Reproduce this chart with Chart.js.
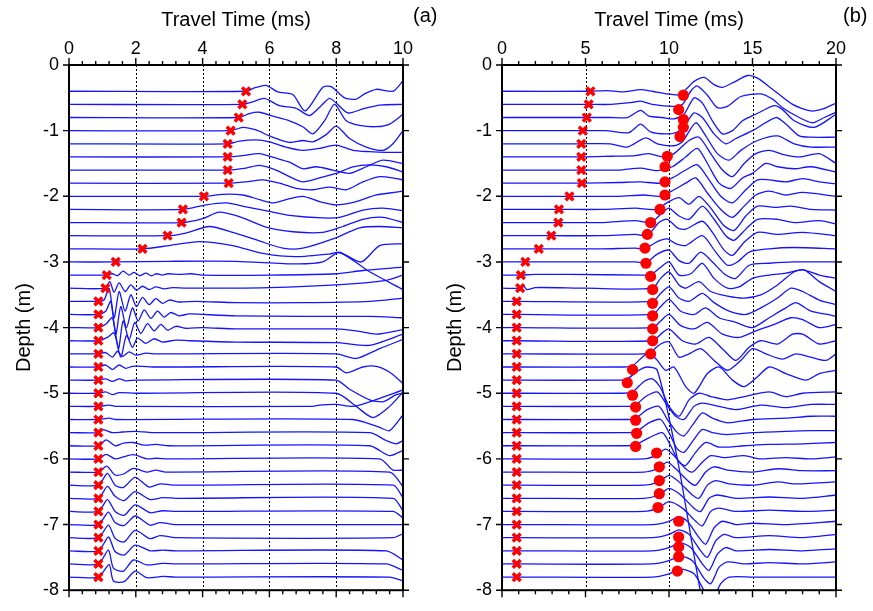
<!DOCTYPE html>
<html>
<head>
<meta charset="utf-8">
<script src="https://cdn.jsdelivr.net/npm/chart.js@4.4.1/dist/chart.umd.min.js"></script>
<style>
  body { margin: 0; background: #fff; width: 873px; height: 611px; position: relative; overflow: hidden; }
  canvas { position: absolute; top: 0; }
  #chartA { left: 0; }
  #chartB { left: 436px; }
</style>
</head>
<body>
<canvas id="chartA" width="436" height="611"></canvas>
<canvas id="chartB" width="437" height="611"></canvas>
<script>
// receiver depths (m), one trace per depth, same for both panels
const depths = [-0.4, -0.6, -0.8, -1.0, -1.2, -1.4, -1.6, -1.8, -2.0, -2.2, -2.4, -2.6, -2.8, -3.0, -3.2, -3.4, -3.6, -3.8, -4.0,
  -4.2, -4.4, -4.6, -4.8, -5.0, -5.2, -5.4, -5.6, -5.8, -6.0, -6.2, -6.4, -6.6, -6.8, -7.0, -7.2, -7.4, -7.6, -7.8];

// first arrival picks (ms), red crosses
const firstArrival = [5.30, 5.19, 5.08, 4.84, 4.75, 4.75, 4.75, 4.78, 4.04, 3.41, 3.37, 2.95, 2.20, 1.40, 1.13, 1.09,
  0.88, 0.88, 0.88, 0.88, 0.88, 0.88, 0.88, 0.88, 0.88, 0.88, 0.88, 0.88, 0.88, 0.88, 0.88, 0.88, 0.88, 0.88, 0.88, 0.88, 0.88, 0.88];

// second picks in panel (b), red dots
const circleTimes = [10.86, 10.58, 10.86, 10.86, 10.66, 9.90, 9.76, 9.76, 9.76, 9.46, 8.90, 8.70, 8.56, 8.62, 8.90, 9.02, 9.02,
  9.02, 9.02, 9.02, 8.90, 7.82, 7.50, 7.82, 8.00, 8.00, 8.06, 8.00, 9.26, 9.42, 9.42, 9.42, 9.34, 10.58, 10.58, 10.58, 10.58, 10.50];
const circleDepths = [-0.46, -0.68, -0.83, -0.95, -1.09, -1.39, -1.55, -1.78, -1.98, -2.20, -2.40, -2.58, -2.79, -3.02, -3.22, -3.42, -3.63,
  -3.82, -4.02, -4.20, -4.40, -4.64, -4.84, -5.03, -5.21, -5.41, -5.61, -5.81, -5.91, -6.12, -6.33, -6.53, -6.74, -6.95, -7.19, -7.34, -7.49, -7.71];

const yTicks = [0, -1, -2, -3, -4, -5, -6, -7, -8];
const xTicksA = [0, 2, 4, 6, 8, 10];
const xTicksB = [0, 5, 10, 15, 20];

// panel (a) traces: [time ms, offset from depth in m]
const tracesA = [
  [[0,0],[5.3,0],[5.55,0.05],[5.9,0.09],[6.25,-0.01],[6.7,-0.05],[7.07,-0.3],[7.6,0.06],[7.85,0.07],[8.25,-0.1],[8.6,-0.12],[8.85,-0.04],[9.2,0.03],[9.7,0],[10,0.16]],
  [[0,0],[5.19,0],[5.5,0.04],[5.85,0.09],[6.3,-0.02],[6.8,-0.06],[7.2,-0.17],[7.55,-0.02],[7.8,0.09],[8.0,0.02],[8.35,-0.13],[8.8,-0.07],[9.3,-0.01],[10,0]],
  [[0,0],[5.08,0],[5.4,0.06],[5.7,0.08],[6.1,0.02],[6.6,-0.05],[7.0,-0.14],[7.3,-0.25],[7.65,-0.05],[7.95,0.2],[8.3,-0.05],[8.7,-0.12],[9.2,-0.14],[9.6,-0.1],[10,0.05]],
  [[0,0],[4.84,0],[5.2,0.05],[5.6,0.01],[6.0,-0.08],[6.6,-0.18],[7.0,-0.15],[7.3,-0.17],[7.7,-0.06],[8.0,0.07],[8.4,-0.12],[8.9,-0.25],[9.4,-0.3],[9.7,-0.2],[10,0]],
  [[0,0],[4.75,0],[5.1,0.04],[5.6,0.06],[6.0,0.03],[6.5,-0.05],[7.0,-0.1],[7.5,-0.07],[8.0,-0.02],[8.5,-0.1],[9.0,-0.12],[9.5,-0.13],[10,-0.13]],
  [[0,0],[4.75,0],[5.2,0.02],[5.7,0.05],[6.2,-0.02],[6.6,-0.08],[7.0,-0.18],[7.4,-0.15],[7.9,-0.2],[8.4,-0.25],[8.9,-0.15],[9.4,-0.05],[10,-0.1]],
  [[0,0],[4.75,0],[5.3,0.03],[5.7,0.07],[6.2,0],[6.6,-0.1],[7.0,-0.18],[7.5,-0.12],[8.0,-0.05],[8.5,0.05],[9.0,0.08],[9.5,0.05],[10,-0.03]],
  [[0,0],[4.78,0],[5.3,0.02],[5.8,0.05],[6.3,0],[6.8,-0.08],[7.3,-0.1],[7.8,-0.06],[8.3,-0.1],[8.8,0.02],[9.3,0.1],[9.8,0.07],[10,0.05]],
  [[0,0],[4.04,0],[4.6,0.03],[5.2,0.02],[5.7,-0.05],[6.1,-0.1],[6.5,-0.05],[7.0,0],[7.5,-0.08],[8.0,-0.13],[8.6,-0.08],[9.2,0.02],[9.6,0.05],[10,0.08]],
  [[0,0],[3.41,0],[4.1,0.07],[4.7,0.1],[5.3,0.04],[6.0,-0.03],[6.6,-0.09],[7.6,-0.13],[8.1,-0.12],[8.8,-0.01],[9.4,0.02],[10,-0.02]],
  [[0,0],[3.37,0],[4.0,0.06],[4.5,0.16],[5.1,0.09],[5.9,-0.07],[6.7,-0.14],[7.6,-0.15],[8.2,-0.06],[8.8,0.05],[9.4,0.08],[10,0]],
  [[0,0],[2.95,0],[3.5,0.04],[4.2,0.14],[4.9,0.05],[5.7,-0.08],[6.4,-0.19],[7.0,-0.19],[7.9,-0.05],[8.7,0.12],[9.3,0.14],[10,0.12]],
  [[0,0],[2.2,0],[3.0,0.05],[3.9,0.11],[4.9,0.05],[5.8,-0.07],[6.8,-0.12],[7.8,-0.08],[8.1,-0.05],[8.75,-0.2],[9.3,0.05],[10,0.08]],
  [[0,0],[1.4,0],[3.0,0.01],[5.0,0.01],[6.8,-0.03],[7.6,0],[8.1,0.14],[9.0,-0.15],[10,-0.42]],
  [[0,0],[1.13,0],[1.3,0.02],[1.45,-0.01],[1.62,0.06],[1.8,0],[1.95,0.04],[2.12,-0.01],[2.3,0.03],[2.47,-0.01],[2.62,0.02],[2.8,0],[2.96,0.02],[3.3,0.01],[3.65,0.02],[4.0,0],[6,0],[8,0.02],[8.8,0.07],[10,0.12]],
  [[0,0],[1.09,0],[1.22,0.1],[1.35,-0.06],[1.5,0.08],[1.68,-0.05],[1.85,0.05],[2.02,-0.03],[2.2,0.03],[2.4,-0.02],[2.6,0.02],[2.85,-0.01],[3.1,0.01],[3.5,0],[6,0.01],[8,0.05],[9.5,0.12],[10,0.2]],
  [[0,0],[0.88,0],[1.05,0.02],[1.2,0.2],[1.35,-0.25],[1.5,0.15],[1.68,-0.15],[1.85,0.1],[2.02,-0.08],[2.2,0.06],[2.4,-0.05],[2.6,0.04],[2.8,-0.03],[3.0,0.02],[3.3,-0.01],[3.8,0],[5,-0.02],[7,-0.02],[9,0],[10,0.05]],
  [[0,0],[0.88,0],[1.1,0.05],[1.25,0.2],[1.4,-0.3],[1.55,0.12],[1.72,-0.2],[1.9,0.1],[2.07,-0.1],[2.25,0.07],[2.45,-0.06],[2.65,0.05],[2.85,-0.04],[3.05,0.03],[3.3,-0.02],[3.6,0.01],[4.0,0],[5,-0.02],[7,-0.03],[9,-0.03],[10,-0.05]],
  [[0,0],[0.88,0],[1.1,0.05],[1.3,0.15],[1.48,-0.32],[1.62,0.1],[1.8,-0.18],[1.97,0.08],[2.15,-0.09],[2.35,0.06],[2.55,-0.05],[2.75,0.05],[2.95,-0.04],[3.2,0.02],[3.5,-0.01],[4.0,0],[5,-0.02],[8,-0.02],[8.6,-0.05],[9.2,-0.1],[10,-0.03]],
  [[0,0],[0.88,0],[1.15,0.05],[1.35,0.12],[1.55,-0.25],[1.72,0.08],[1.9,-0.1],[2.05,0.04],[2.3,-0.04],[2.55,0.03],[2.8,-0.02],[3.2,0.01],[3.6,0],[5,-0.02],[8,-0.03],[9,-0.07],[10,0.1]],
  [[0,0],[0.88,0],[1.1,0.02],[1.3,-0.05],[1.45,0.04],[1.6,-0.04],[1.8,0.03],[2.0,-0.02],[2.3,0.01],[2.6,0],[8,0],[8.6,-0.07],[9.3,0.08],[10,0.22]],
  [[0,0],[0.88,0],[1.1,0.03],[1.3,-0.04],[1.5,0.03],[1.7,-0.02],[1.9,0.01],[2.2,0.01],[2.5,0],[8,0],[8.3,-0.09],[8.8,0],[9.2,0.01],[9.6,-0.08],[10,-0.25]],
  [[0,0],[0.88,0],[1.1,0.02],[1.3,-0.02],[1.5,0.02],[1.7,-0.01],[2.0,0],[8,0],[8.4,-0.14],[9.0,-0.3],[9.4,-0.33],[9.8,-0.22],[10,-0.2]],
  [[0,0],[0.88,0],[1.1,0.02],[1.3,-0.02],[1.5,0.01],[2.0,0],[8,0],[8.6,-0.2],[9.1,-0.37],[9.6,-0.2],[10,0.02]],
  [[0,0],[0.88,0],[1.2,0.02],[1.4,0],[7.3,0],[7.5,0.02],[8.0,0.03],[8.5,0],[9.0,0.07],[10,0.25]],
  [[0,0],[0.88,0],[1.2,0.02],[1.4,0],[8.5,0],[9.3,-0.12],[9.6,-0.17],[10,0.07]],
  [[0,0],[0.88,0],[1.0,0.05],[1.3,0],[1.6,0.01],[2.0,0.02],[2.5,0],[9.0,0],[9.5,-0.12],[9.8,-0.17],[10,-0.12]],
  [[0,0],[0.88,0],[1.11,0.09],[1.38,0],[1.63,0.04],[1.93,0.05],[2.25,0.01],[2.6,0.02],[3,0],[9.0,0],[9.6,-0.15],[10,-0.07]],
  [[0,0],[0.88,0],[1.11,0.07],[1.38,0],[1.63,0.03],[1.93,0.065],[2.33,0],[2.6,0.01],[3,0],[9.3,0],[9.7,-0.17],[10,-0.17]],
  [[0,0],[0.88,0],[1.13,0.09],[1.38,-0.045],[1.63,-0.03],[1.93,0.055],[2.33,0],[2.6,0.03],[2.9,0],[9.6,0],[10,-0.22]],
  [[0,0],[0.88,0],[1.15,0.18],[1.38,0],[1.63,-0.035],[1.98,0.12],[2.4,-0.03],[2.72,0.02],[3.2,0],[9.7,0],[10,-0.19]],
  [[0,0],[0.88,0],[1.15,0.18],[1.38,0.03],[1.65,-0.035],[1.98,0.1],[2.43,-0.02],[2.8,0.01],[3.2,0],[9.7,0],[10,-0.19]],
  [[0,0],[0.88,0],[1.15,0.18],[1.38,0],[1.65,-0.06],[1.98,0.1],[2.43,-0.02],[2.8,0.01],[3.2,0],[9.7,0],[10,-0.1]],
  [[0,0],[0.88,0],[1.18,0.19],[1.38,0.03],[1.65,-0.015],[1.98,0.13],[2.43,-0.01],[2.72,0.03],[3.2,0],[9.7,0],[10,0]],
  [[0,0],[0.88,0],[1.18,0.19],[1.38,-0.01],[1.65,-0.065],[1.98,0.11],[2.43,-0.015],[2.72,0.03],[3.2,0],[9.7,0],[10,0.06]],
  [[0,0],[0.88,0],[1.18,0.21],[1.38,-0.01],[1.65,-0.065],[1.98,0.085],[2.43,0],[2.8,0.01],[3.2,0],[9.5,0],[10,-0.14]],
  [[0,0],[0.88,0],[1.18,0.21],[1.33,-0.065],[1.63,-0.11],[1.93,0.06],[2.33,-0.015],[2.8,0.01],[3.2,0],[9.5,0],[10,-0.1]],
  [[0,0],[0.88,0],[1.2,0.19],[1.33,-0.06],[1.65,-0.07],[1.98,0.09],[2.33,-0.01],[2.8,0.01],[3.2,0],[9.6,0],[10,-0.06]]
];

// panel (b) traces: [time ms, offset from depth in m]
const tracesB = [
  [[0,0],[5.33,0],[6.3,0.01],[7.2,-0.01],[8.3,0.025],[9.0,0],[9.9,-0.04],[10.6,-0.05],[11.1,0.05],[11.5,0.15],[12.1,0.21],[12.7,0.1],[13.2,0.06],[13.9,0.14],[14.7,0.24],[15.3,0.2],[16.2,0.03],[17.4,-0.2],[18.5,-0.3],[19.2,-0.27],[20,-0.18]],
  [[0,0],[5.19,0],[6.5,0],[7.8,0.03],[8.3,0.05],[9.0,0],[10.2,-0.03],[10.8,0],[11.3,0.2],[11.7,0.28],[12.3,0.14],[12.9,-0.05],[13.5,-0.03],[14.3,0.12],[15.5,0.16],[16.2,0.08],[16.8,-0.05],[17.8,-0.2],[18.6,-0.28],[19.3,-0.2],[20,-0.12]],
  [[0,0],[5.08,0],[6.5,0],[7.5,0],[8.3,0.11],[8.8,0.02],[9.6,0],[10.3,-0.02],[10.9,0.05],[11.5,0.3],[12.0,0.22],[12.6,-0.05],[13.2,-0.25],[13.8,-0.2],[14.4,-0.05],[15.2,0.05],[16.3,0.18],[16.8,0.12],[17.5,-0.05],[18.7,-0.15],[20,0.05]],
  [[0,0],[4.84,0],[6.2,0],[7.6,-0.03],[8.3,0.1],[8.9,-0.02],[9.8,-0.05],[10.5,-0.02],[11.0,0.1],[11.5,0.27],[12.0,0.2],[12.7,-0.05],[13.4,-0.2],[14.0,-0.12],[15.0,0],[16.4,0.2],[17.0,0.1],[17.8,-0.08],[18.5,-0.1],[20,-0.1]],
  [[0,0],[4.75,0],[6.5,0],[7.5,-0.05],[8.6,0.09],[9.3,0],[10.3,-0.03],[10.8,0.03],[11.6,0.32],[12.2,0.12],[12.9,-0.15],[13.6,-0.25],[14.3,-0.1],[15.3,0.05],[16.5,0.12],[17.5,0],[18.5,-0.05],[20,-0.05]],
  [[0,0],[4.75,0],[6.5,0.01],[8.0,0.02],[8.8,0.05],[9.6,0],[10.3,0.05],[11.2,0.25],[11.8,0.3],[12.5,0.05],[13.2,-0.2],[13.8,-0.3],[14.5,-0.1],[15.2,0.05],[16.0,0.1],[16.8,0.04],[17.8,0],[19.0,0.05],[20,-0.1]],
  [[0,0],[4.75,0],[7.0,0],[8.3,0.03],[9.3,-0.01],[10.2,0.05],[11.0,0.2],[11.7,0.33],[12.3,0.1],[13.0,-0.2],[13.7,-0.28],[14.4,-0.12],[15.0,-0.05],[15.8,0.1],[16.5,0.05],[17.5,0.02],[18.5,0.05],[20,-0.03]],
  [[0,0],[4.78,0],[7.0,0.01],[8.3,0.02],[9.5,0],[10.2,0.08],[11.0,0.2],[11.7,0.28],[12.4,0.05],[13.1,-0.2],[13.8,-0.3],[14.6,-0.1],[15.3,0.05],[16.0,0.05],[17.0,0.02],[18.0,0.07],[19.0,0.02],[20,-0.01]],
  [[0,0],[4.04,0],[7.0,0],[8.5,0.02],[9.5,0],[10.3,0.1],[11.0,0.2],[11.6,0.28],[12.3,0.05],[13.1,-0.2],[13.8,-0.32],[14.5,-0.15],[15.2,0.02],[16.0,0.08],[17.0,0.02],[18.0,0.06],[20,0]],
  [[0,0],[3.41,0],[6.0,0],[8.0,0.02],[9.2,0],[10.0,0.12],[10.6,0.18],[11.2,0.08],[11.8,0.2],[12.5,0.02],[13.3,-0.25],[13.9,-0.32],[14.6,-0.1],[15.3,0.05],[16.3,0.03],[17.3,0.05],[18.5,0],[20,-0.01]],
  [[0,0],[3.37,0],[6.0,0],[8.0,0.03],[8.9,0],[9.6,0.15],[10.0,0.22],[10.6,0.1],[11.2,0.05],[12.0,0.25],[12.7,0.05],[13.4,-0.2],[13.9,-0.27],[14.6,-0.1],[15.3,0.05],[16.5,0.05],[17.5,0],[19,0.03],[20,-0.02]],
  [[0,0],[2.95,0],[6.0,0],[8.0,0.02],[8.7,0],[9.4,0.2],[9.9,0.25],[10.5,0.12],[11.0,0.1],[12.0,0.22],[12.6,0.05],[13.3,-0.22],[13.8,-0.3],[14.5,-0.1],[15.3,0.05],[16.5,0.02],[18,0.05],[20,0]],
  [[0,0],[2.2,0],[6.0,0],[8.0,0.01],[8.56,0],[9.3,0.11],[9.9,0.15],[10.4,0.08],[11.0,0.05],[12.0,0.2],[12.8,-0.05],[13.5,-0.25],[14.1,-0.2],[14.8,-0.05],[16.0,0],[17.5,0.02],[20,0]],
  [[0,0],[1.4,0],[5.0,0],[8.0,0],[8.62,-0.01],[9.3,0.12],[10.0,0.18],[10.6,0.02],[11.2,-0.02],[11.9,0.15],[12.6,0],[13.4,-0.2],[14.0,-0.25],[14.8,-0.05],[16.0,-0.02],[17.5,0],[20,0]],
  [[0,0],[1.13,0],[2.0,0.01],[4.0,0.01],[8.5,0],[8.9,0],[9.5,0.12],[10.0,0.2],[10.6,0],[11.3,0.02],[12.0,0.18],[12.7,-0.05],[13.5,-0.2],[14.2,-0.18],[15.0,-0.05],[16.0,0],[17.0,0.03],[18.0,0.08],[19.0,0],[20,-0.05]],
  [[0,0],[1.09,0],[1.3,0.03],[1.5,-0.02],[2.0,0.01],[5.0,0],[9.0,0],[9.5,0.15],[10.0,0.25],[10.6,0.05],[11.0,0],[11.8,0.1],[12.5,-0.05],[13.5,-0.12],[14.5,-0.15],[15.5,-0.1],[16.5,0.05],[17.5,0.25],[18.1,0.28],[19.0,0.1],[20,-0.05]],
  [[0,0],[0.88,0],[9.0,0],[9.5,0.12],[10.0,0.22],[10.6,0.05],[11.2,0],[12.0,0.12],[12.7,-0.02],[13.6,-0.15],[14.6,-0.2],[15.5,-0.1],[16.5,0.05],[17.3,0.2],[18.0,0.15],[19.0,0.02],[20,-0.05]],
  [[0,0],[0.88,0],[9.0,0],[9.5,0.12],[10.0,0.23],[10.7,0.05],[11.5,0],[12.2,0.1],[13.0,-0.05],[14.0,-0.12],[15.0,-0.2],[16.0,-0.05],[17.0,0.1],[17.6,0.18],[18.5,0.05],[19.5,0],[20,-0.03]],
  [[0,0],[0.88,0],[9.0,0],[9.5,0.1],[10.0,0.2],[10.7,0.03],[11.5,-0.02],[12.3,0.08],[13.2,-0.1],[14.2,-0.15],[15.2,-0.05],[16.3,0.05],[17.3,0.15],[18.0,0.12],[19.0,0],[20,0.05]],
  [[0,0],[0.88,0],[9.0,0],[9.6,0.12],[10.0,0.18],[10.8,0],[11.6,-0.05],[12.4,0.05],[13.3,-0.15],[14.0,-0.3],[14.8,-0.1],[15.5,0],[16.5,-0.05],[17.4,0.1],[18.0,0.1],[19.0,-0.05],[20,0]],
  [[0,0],[0.88,0],[8.5,0],[9.0,0.05],[9.5,0.15],[10.0,0.18],[10.6,-0.05],[11.2,0],[11.9,0.08],[12.7,-0.1],[13.5,-0.25],[14.3,-0.1],[15.0,0.08],[15.8,0],[16.8,-0.08],[17.6,0],[18.5,-0.05],[19.4,-0.1],[20,0]],
  [[0,0],[0.88,0],[7.3,0],[7.82,0.02],[8.4,0.15],[8.8,0.22],[9.3,0.1],[9.8,-0.05],[10.3,0],[11.0,-0.3],[11.5,-0.4],[12.3,-0.1],[13.0,0],[13.8,-0.2],[14.5,-0.3],[15.3,-0.15],[16.0,0],[17.0,-0.1],[18.2,-0.2],[19.0,-0.1],[20,-0.05]],
  [[0,0],[0.88,0],[7.0,0],[7.5,0.02],[8.2,0.15],[8.7,0.2],[9.3,0.15],[10.5,-1.2],[11.9,-3.25],[12.2,-3.5]],
  [[0,0],[0.88,0],[7.2,0],[7.82,0.02],[8.5,0.18],[9.0,0.22],[9.5,0.08],[10.0,-0.2],[10.6,-0.35],[11.2,-0.1],[11.8,0],[12.5,-0.05],[13.5,-0.1],[14.5,-0.05],[16,0.02],[17,-0.05],[18,0],[20,0.02]],
  [[0,0],[0.88,0],[7.5,0],[8.0,0.02],[8.6,0.15],[9.3,0.22],[9.8,0.05],[10.4,-0.15],[10.9,-0.2],[11.5,0],[12.0,0.05],[13,0],[14,-0.05],[15.5,0.02],[17,-0.02],[18.5,0.03],[20,0.03]],
  [[0,0],[0.88,0],[7.5,0],[8.0,0.02],[8.7,0.15],[9.4,0.2],[9.9,0],[10.5,-0.2],[10.9,-0.25],[11.5,-0.05],[12.0,0.1],[12.6,0.02],[13.5,-0.05],[15,0],[17,0.02],[18.5,0.05],[20,0.05]],
  [[0,0],[0.88,0],[7.5,0],[8.06,0.02],[8.8,0.15],[9.5,0.2],[10.0,0],[10.5,-0.25],[10.9,-0.3],[11.5,-0.1],[12.0,0.05],[12.6,0],[13.5,-0.03],[15,0],[17,0.02],[18.5,0.03],[20,0.03]],
  [[0,0],[0.88,0],[7.5,0],[8.0,0.02],[8.8,0.12],[9.6,0.2],[10.1,0],[10.6,-0.25],[11.0,-0.3],[11.6,-0.1],[12.2,0.05],[13,-0.02],[14.5,0],[16,0.02],[18,0.03],[20,0.05]],
  [[0,0],[0.88,0],[8.5,0],[9.2,0.05],[9.8,0.15],[10.3,0.05],[11.0,-0.15],[11.4,-0.2],[12.0,-0.05],[12.5,0.05],[13.3,0.02],[14.5,0.05],[15.5,0],[17,0.02],[18.5,0],[20,0.03]],
  [[0,0],[0.88,0],[8.5,0],[9.3,0.05],[9.9,0.15],[10.4,0.05],[11.2,-0.15],[11.6,-0.2],[12.2,0],[12.7,0.08],[13.5,0.03],[15,0],[16.5,0.05],[18,0.02],[20,0.02]],
  [[0,0],[0.88,0],[8.5,0],[9.4,0.05],[10.0,0.15],[10.6,0.05],[11.4,-0.15],[11.8,-0.2],[12.3,0],[12.8,0.07],[13.6,0.02],[15,0],[16.5,0.05],[17.5,0.02],[20,0.05]],
  [[0,0],[0.88,0],[8.5,0],[9.4,0.05],[10.0,0.15],[10.7,0.05],[11.5,-0.15],[11.9,-0.2],[12.4,0],[12.9,0.05],[14,0],[16,0.02],[18,0],[20,0.05]],
  [[0,0],[0.88,0],[8.5,0],[9.35,0.05],[10.0,0.15],[10.8,0.05],[11.6,-0.15],[12.0,-0.22],[12.5,0],[13.0,0.05],[14,0],[16,0.02],[18,0],[20,0.02]],
  [[0,0],[0.88,0],[9.0,0],[10.0,0.05],[10.6,0.12],[11.1,0.05],[11.8,-0.2],[12.2,-0.3],[12.7,-0.05],[13.2,0.05],[14,0],[15,0.02],[17,0],[20,0.05]],
  [[0,0],[0.88,0],[9.0,0],[10.0,0.05],[10.6,0.12],[11.2,0.05],[11.9,-0.2],[12.3,-0.3],[12.8,-0.05],[13.3,0.05],[14,0],[16,0.03],[18,0],[20,0.05]],
  [[0,0],[0.88,0],[9.0,0],[10.0,0.05],[10.7,0.12],[11.3,0.05],[12.0,-0.2],[12.4,-0.3],[12.9,-0.05],[13.4,0.05],[14,0],[16,0.02],[18,0],[20,0.03]],
  [[0,0],[0.88,0],[9.0,0],[10.0,0.05],[10.7,0.12],[11.4,0.05],[12.1,-0.22],[12.5,-0.3],[13.0,-0.05],[13.5,0.03],[14.5,0],[16,0.02],[18,0],[20,0.03]],
  [[0,0],[0.88,0],[9.0,0],[10.0,0.05],[10.7,0.12],[11.5,0.05],[12.2,-0.25],[12.6,-0.35],[13.1,-0.1],[13.6,0],[15,0],[17,0],[20,0]]
];

const BLUE = 'rgb(20,20,255)';
const RED = 'rgb(255,0,0)';
const FONT = "'Liberation Sans', Arial, sans-serif";

// frame, minor ticks, dotted grid and panel letter
const framePlugin = {
  id: 'frame',
  beforeDatasetsDraw(chart, args, opts) {
    const { ctx, chartArea: ca, scales: { x } } = chart;
    ctx.save();
    ctx.strokeStyle = '#000';
    ctx.lineWidth = 1;
    ctx.setLineDash([2, 2]);
    opts.grid.forEach(v => {
      const px = Math.round(x.getPixelForValue(v)) + 0.5;
      ctx.beginPath();
      ctx.moveTo(px, ca.top);
      ctx.lineTo(px, ca.bottom);
      ctx.stroke();
    });
    ctx.restore();
  },
  afterDraw(chart, args, opts) {
    const { ctx, chartArea: ca, scales: { x, y } } = chart;
    ctx.save();
    ctx.strokeStyle = '#000';
    ctx.lineWidth = 2;
    ctx.strokeRect(ca.left, ca.top, ca.right - ca.left, ca.bottom - ca.top);
    ctx.lineWidth = 1.4;
    ctx.beginPath();
    const n = Math.round((x.max - x.min) / opts.minor);
    for (let k = 0; k <= n; k++) {
      const v = x.min + k * opts.minor;
      const px = x.getPixelForValue(v);
      const len = opts.major.includes(Math.round(v * 10) / 10) ? 7 : 4;
      ctx.moveTo(px, ca.top); ctx.lineTo(px, ca.top - len);
      ctx.moveTo(px, ca.bottom); ctx.lineTo(px, ca.bottom + len);
    }
    yTicks.forEach(v => {
      const py = y.getPixelForValue(v);
      ctx.moveTo(ca.left, py); ctx.lineTo(ca.left - 6, py);
      ctx.moveTo(ca.right, py); ctx.lineTo(ca.right + 6, py);
    });
    ctx.stroke();
    ctx.fillStyle = '#000';
    ctx.font = '20px ' + FONT;
    ctx.textBaseline = 'middle';
    ctx.textAlign = 'left';
    ctx.fillText(opts.letter, opts.letterX, 16);
    ctx.restore();
  }
};

function makeChart(id, traces, xMax, xTicks, minor, grid, letter, letterX, yWidth, rightPad, withCircles, yTitlePad) {
  const datasets = [];
  datasets.push({
    data: firstArrival.map((t, i) => ({ x: t, y: depths[i] })),
    pointStyle: 'crossRot', pointRadius: 5.5, pointBorderWidth: 3.5,
    borderColor: RED, pointBorderColor: RED, showLine: false, order: 0
  });
  if (withCircles) {
    datasets.push({
      data: circleTimes.map((t, i) => ({ x: t, y: circleDepths[i] })),
      pointStyle: 'circle', pointRadius: 5.6, pointBorderWidth: 0,
      backgroundColor: RED, pointBackgroundColor: RED, borderColor: RED, showLine: false, order: 0
    });
  }
  traces.forEach((tr, i) => {
    datasets.push({
      data: tr.map(p => ({ x: p[0], y: depths[i] + p[1] })),
      showLine: true, borderColor: BLUE, borderWidth: 1.3, pointRadius: 0,
      tension: 0.25, order: 1
    });
  });

  return new Chart(document.getElementById(id), {
    type: 'scatter',
    data: { datasets },
    options: {
      responsive: false,
      animation: false,
      layout: { padding: { top: 0, right: rightPad, bottom: 9, left: 0 } },
      plugins: {
        legend: { display: false },
        tooltip: { enabled: false },
        frame: { grid, minor, major: xTicks, letter, letterX }
      },
      scales: {
        x: {
          type: 'linear', position: 'top', min: 0, max: xMax,
          afterBuildTicks: s => { s.ticks = xTicks.map(v => ({ value: v })); },
          afterFit: s => { s.height = 65; },
          grid: { display: false, drawTicks: false },
          border: { display: false },
          ticks: { color: '#000', font: { family: FONT, size: 18 }, padding: 5, maxRotation: 0, autoSkip: false },
          title: { display: true, text: 'Travel Time (ms)', color: '#000', font: { family: FONT, size: 20 }, padding: { top: 8, bottom: 0 } }
        },
        y: {
          type: 'linear', position: 'left', min: -8, max: 0,
          afterBuildTicks: s => { s.ticks = yTicks.map(v => ({ value: v })); },
          afterFit: s => { s.width = yWidth; },
          grid: { display: false, drawTicks: false },
          border: { display: false },
          ticks: { color: '#000', font: { family: FONT, size: 18 }, padding: 10, autoSkip: false },
          title: { display: true, text: 'Depth (m)', color: '#000', font: { family: FONT, size: 20 }, padding: { top: yTitlePad, bottom: 0 } }
        }
      }
    },
    plugins: [framePlugin]
  });
}

makeChart('chartA', tracesA, 10, xTicksA, 0.4, [2, 4, 6, 8], '(a)', 413, 69, 33, false, 12);
makeChart('chartB', tracesB, 20, xTicksB, 1, [5, 10, 15], '(b)', 407, 66, 37, true, 7);
</script>
</body>
</html>
